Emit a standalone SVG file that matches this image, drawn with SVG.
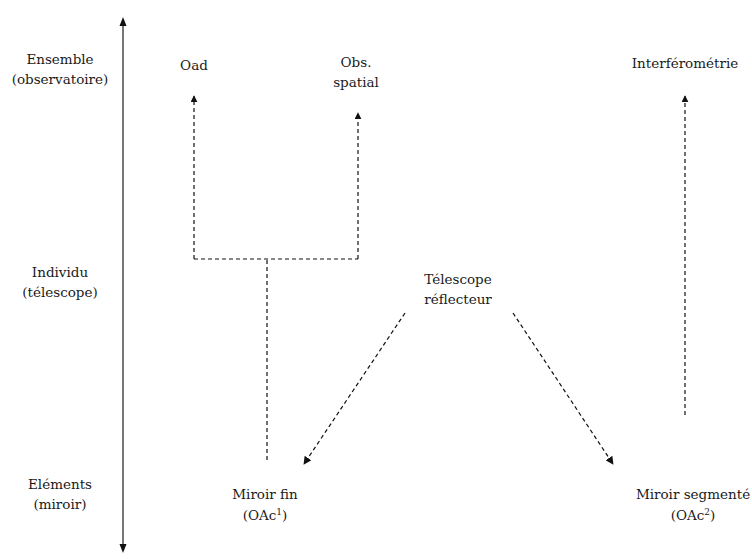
<svg xmlns="http://www.w3.org/2000/svg" width="752" height="559" viewBox="0 0 752 559">
<style>
.t{font-family:'DejaVu Serif','Liberation Serif',serif;font-size:13.5px;fill:#1a1a1a;text-anchor:middle}
.d{stroke:#111;stroke-width:1.2;fill:none;stroke-dasharray:4 3}
.ax{stroke:#555;stroke-width:1.6;fill:none}
</style>
<defs>
<marker id="ah" viewBox="0 0 10 10" refX="9" refY="5" markerWidth="7" markerHeight="7" markerUnits="userSpaceOnUse" orient="auto"><path d="M0,0L10,5L0,10z" fill="#111"/></marker>
<marker id="ah2" viewBox="0 0 10 10" refX="9" refY="5" markerWidth="8" markerHeight="8" markerUnits="userSpaceOnUse" orient="auto"><path d="M0,0L10,5L0,10z" fill="#111"/></marker>
</defs>
<g id="axis">
<line class="ax" x1="123" y1="545" x2="123" y2="26"/>
<path d="M123,17L119.5,26L126.5,26z" fill="#111"/>
<path d="M123,553L119.5,544L126.5,544z" fill="#111"/>
</g>
<g id="level-ensemble" class="t"><text x="60" y="64">Ensemble</text><text x="60" y="84">(observatoire)</text></g>
<g id="level-individu" class="t"><text x="60" y="277">Individu</text><text x="60" y="297">(télescope)</text></g>
<g id="level-elements" class="t"><text x="60" y="489">Eléments</text><text x="60" y="509">(miroir)</text></g>
<g id="oad" class="t"><text x="194" y="70">Oad</text></g>
<g id="obs-spatial" class="t"><text x="356" y="67">Obs.</text><text x="356" y="87">spatial</text></g>
<g id="interferometrie" class="t"><text x="685" y="68">Interférométrie</text></g>
<g id="telescope" class="t"><text x="458" y="284">Télescope</text><text x="458" y="304">réflecteur</text></g>
<g id="miroir-fin" class="t"><text x="265" y="499">Miroir fin</text><text x="265" y="520">(OAc<tspan font-size="9" dy="-5">1</tspan><tspan dy="5">)</tspan></text></g>
<g id="miroir-segmente" class="t"><text x="693" y="499">Miroir segmenté</text><text x="693" y="520">(OAc<tspan font-size="9" dy="-5">2</tspan><tspan dy="5">)</tspan></text></g>
<g id="connectors">
<path class="d" d="M267,460V259"/>
<path class="d" d="M194,259H358"/>
<path class="d" d="M194,259V96" marker-end="url(#ah)"/>
<path class="d" d="M358,259V113" marker-end="url(#ah)"/>
<path class="d" d="M685,415V96" marker-end="url(#ah)"/>
<path class="d" d="M405,313L304,464" marker-end="url(#ah2)"/>
<path class="d" d="M513,313L613,464" marker-end="url(#ah2)"/>
</g>
</svg>
